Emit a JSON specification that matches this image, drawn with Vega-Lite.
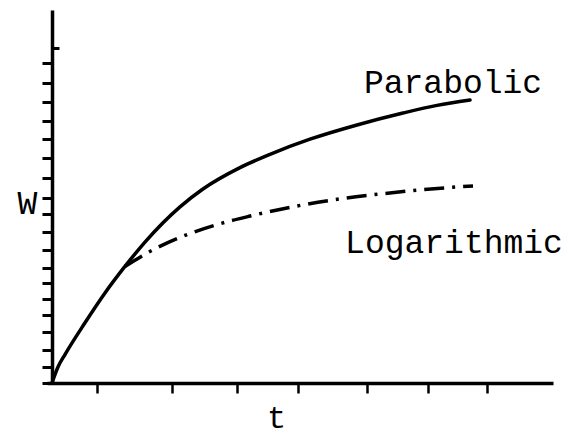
{
  "$schema": "https://vega.github.io/schema/vega-lite/v6.json",
  "autosize": "none",
  "width": 506,
  "height": 373,
  "padding": {"left": 47, "top": 10, "right": 16, "bottom": 54},
  "background": "white",
  "config": {
    "view": {"stroke": null},
    "font": "Liberation Mono"
  },
  "datasets": {
    "curves": [
      {"series": "Parabolic", "t": 0.0, "W": 0.0},
      {"series": "Parabolic", "t": 0.097, "W": 0.9},
      {"series": "Parabolic", "t": 0.21, "W": 1.6},
      {"series": "Parabolic", "t": 0.53, "W": 3.37},
      {"series": "Parabolic", "t": 0.855, "W": 5.06},
      {"series": "Parabolic", "t": 1.177, "W": 6.55},
      {"series": "Parabolic", "t": 1.5, "W": 7.92},
      {"series": "Parabolic", "t": 2.065, "W": 9.9},
      {"series": "Parabolic", "t": 2.435, "W": 10.9},
      {"series": "Parabolic", "t": 3.032, "W": 12.1},
      {"series": "Parabolic", "t": 3.516, "W": 12.85},
      {"series": "Parabolic", "t": 4.161, "W": 13.7},
      {"series": "Parabolic", "t": 4.919, "W": 14.5},
      {"series": "Parabolic", "t": 5.661, "W": 15.17},
      {"series": "Parabolic", "t": 6.21, "W": 15.6},
      {"series": "Parabolic", "t": 6.742, "W": 15.9},
      {"series": "Logarithmic", "t": 1.177, "W": 6.55},
      {"series": "Logarithmic", "t": 1.532, "W": 7.3},
      {"series": "Logarithmic", "t": 2.113, "W": 8.25},
      {"series": "Logarithmic", "t": 2.661, "W": 8.9},
      {"series": "Logarithmic", "t": 3.194, "W": 9.38},
      {"series": "Logarithmic", "t": 4.032, "W": 10.0},
      {"series": "Logarithmic", "t": 4.694, "W": 10.37},
      {"series": "Logarithmic", "t": 5.339, "W": 10.64},
      {"series": "Logarithmic", "t": 5.935, "W": 10.85},
      {"series": "Logarithmic", "t": 6.468, "W": 11.0},
      {"series": "Logarithmic", "t": 6.79, "W": 11.07}
    ]
  },
  "data": {"name": "curves"},
  "encoding": {
    "x": {
      "field": "t",
      "type": "quantitative",
      "scale": {"domain": [-0.08, 8.08], "nice": false, "zero": false},
      "axis": {
        "title": "t",
        "titleFont": "Liberation Mono",
        "titleFontSize": 32,
        "titleFontWeight": "normal",
        "titleColor": "black",
        "titleX": 229,
        "titleY": 44,
        "titleAlign": "center",
        "titleBaseline": "alphabetic",
        "values": [0.72, 1.94, 2.98, 3.97, 5.08, 6.07, 7.01],
        "labels": false,
        "grid": false,
        "domainColor": "black",
        "domainWidth": 3.5,
        "tickColor": "black",
        "tickWidth": 2.5,
        "tickSize": 10
      }
    },
    "y": {
      "field": "W",
      "type": "quantitative",
      "scale": {"domain": [0, 20.96], "nice": false, "zero": false},
      "axis": {
        "title": "W",
        "titleFont": "Liberation Mono",
        "titleFontSize": 33,
        "titleFontWeight": "normal",
        "titleColor": "black",
        "titleAngle": 0,
        "titleX": -25,
        "titleY": 203,
        "titleAlign": "center",
        "titleBaseline": "alphabetic",
        "offset": -5,
        "values": [0, 0.88, 1.85, 2.87, 3.82, 4.7, 5.6, 6.48, 7.47, 8.47, 9.48, 10.41, 11.53, 12.67, 13.72, 14.74, 15.79, 16.84, 18.0, 18.82],
        "labels": false,
        "grid": false,
        "domainColor": "black",
        "domainWidth": 3.5,
        "tickColor": "black",
        "tickWidth": 3,
        "tickSize": {"condition": {"test": "datum.value > 18.5", "value": -7}, "value": 10}
      }
    }
  },
  "layer": [
    {
      "transform": [{"filter": "datum.series === 'Parabolic'"}],
      "mark": {"type": "line", "color": "black", "strokeWidth": 3.5, "interpolate": "monotone", "strokeCap": "round"}
    },
    {
      "transform": [{"filter": "datum.series === 'Logarithmic'"}],
      "mark": {"type": "line", "color": "black", "strokeWidth": 3.5, "interpolate": "monotone", "strokeDash": [20, 8, 3, 8]}
    },
    {
      "transform": [
        {"filter": "datum.series === 'Parabolic'"},
        {"aggregate": [{"op": "max", "field": "t", "as": "t"}, {"op": "max", "field": "W", "as": "W"}], "groupby": ["series"]}
      ],
      "mark": {"type": "text", "font": "Liberation Mono", "fontSize": 33, "color": "black", "align": "center", "baseline": "alphabetic", "dx": -17, "dy": -7},
      "encoding": {"text": {"field": "series"}}
    },
    {
      "transform": [
        {"filter": "datum.series === 'Logarithmic'"},
        {"aggregate": [{"op": "max", "field": "t", "as": "t"}, {"op": "max", "field": "W", "as": "W"}], "groupby": ["series"]}
      ],
      "mark": {"type": "text", "font": "Liberation Mono", "fontSize": 33, "color": "black", "align": "center", "baseline": "alphabetic", "dx": -19, "dy": 67},
      "encoding": {"text": {"field": "series"}}
    }
  ]
}
